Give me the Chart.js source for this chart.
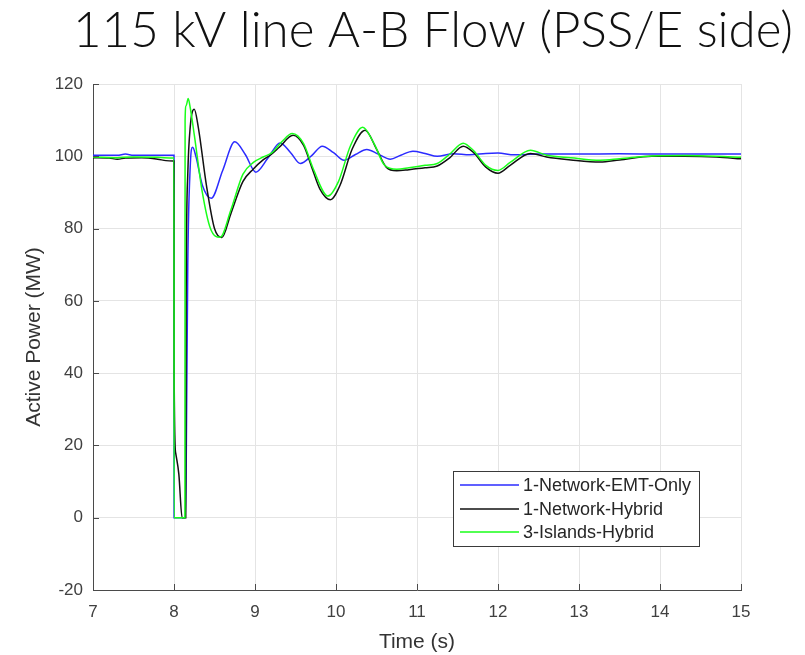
<!DOCTYPE html>
<html>
<head>
<meta charset="utf-8">
<script src="https://cdn.jsdelivr.net/npm/chart.js@4.4.1/dist/chart.umd.min.js"></script>
<style>
  html, body { margin: 0; padding: 0; background: #ffffff; }
  #wrap { width: 805px; height: 655px; position: relative; }
</style>
</head>
<body>
<div id="wrap"><canvas id="c" width="805" height="655"></canvas></div>
<script>
// ---- chart text ----
const chartTitle = '115 kV line A-B Flow (PSS/E side)';
const xAxisTitle = 'Time (s)';
const yAxisTitle = 'Active Power (MW)';
const seriesNames = ['1-Network-EMT-Only', '1-Network-Hybrid', '3-Islands-Hybrid'];
const seriesColors = ['#2b2bff', '#111111', '#19ff19'];

// ---- tick values ----
const timeTicks = [7, 8, 9, 10, 11, 12, 13, 14, 15];
const powerTicks = [-20, 0, 20, 40, 60, 80, 100, 120];

// ---- 1-Network-EMT-Only ----
const emtOnlyTime  = [7.0, 7.3, 7.4, 7.5, 7.99, 8.0, 8.001, 8.14, 8.15, 8.17, 8.2, 8.23, 8.27, 8.35, 8.46, 8.6, 8.75, 8.88, 9.01, 9.16, 9.31, 9.44, 9.56, 9.7, 9.83, 9.97, 10.1, 10.24, 10.38, 10.52, 10.67, 10.8, 10.95, 11.1, 11.25, 11.45, 11.65, 11.85, 12.0, 12.2, 12.5, 13.0, 13.5, 14.0, 14.5, 15.0];
const emtOnlyPower = [100.3, 100.3, 100.6, 100.3, 100.3, 100.3, 0, 0, 13, 70, 97, 102.5, 100, 92, 88.4, 96, 104, 100.5, 95.6, 99.5, 103.7, 101, 98, 100.2, 102.8, 101, 98.9, 100.5, 101.9, 100.6, 99.2, 100.3, 101.4, 100.8, 100, 100.7, 100.4, 100.8, 100.9, 100.4, 100.6, 100.6, 100.7, 100.6, 100.6, 100.6];

// ---- 1-Network-Hybrid ----
const hybridTime  = [7.0, 7.2, 7.3, 7.4, 7.6, 7.8, 7.9, 7.99, 8.0, 8.002, 8.02, 8.06, 8.1, 8.145, 8.15, 8.17, 8.2, 8.25, 8.3, 8.4, 8.5, 8.59, 8.7, 8.85, 8.98, 9.1, 9.2, 9.3, 9.47, 9.6, 9.7, 9.8, 9.93, 10.05, 10.2, 10.36, 10.5, 10.62, 10.75, 10.9, 11.1, 11.25, 11.4, 11.57, 11.7, 11.85, 12.0, 12.15, 12.4, 12.6, 12.9, 13.26, 13.5, 13.9, 14.3, 14.7, 15.0];
const hybridPower = [99.6, 99.5, 99.2, 99.5, 99.6, 99.2, 98.8, 98.7, 98.7, 39, 18, 12, 0, 0, 60, 95, 108, 113, 108, 92, 80, 77.5, 84, 93, 96.5, 99, 100.5, 102.5, 105.8, 103, 97, 91, 88, 92, 102, 107.2, 102, 97, 96, 96.3, 96.8, 97.3, 99.5, 102.8, 101, 97, 95.3, 97.5, 100.8, 99.8, 99, 98.4, 99, 100, 100, 99.8, 99.3];

// ---- 3-Islands-Hybrid ----
const islandsTime  = [7.0, 7.3, 7.5, 7.8, 7.99, 8.0, 8.001, 8.135, 8.137, 8.15, 8.175, 8.2, 8.25, 8.35, 8.45, 8.57, 8.7, 8.85, 8.98, 9.1, 9.21, 9.33, 9.46, 9.6, 9.72, 9.9, 10.03, 10.18, 10.33, 10.47, 10.6, 10.75, 10.9, 11.1, 11.25, 11.4, 11.57, 11.7, 11.85, 12.0, 12.15, 12.4, 12.6, 12.9, 13.26, 13.5, 13.9, 14.3, 14.7, 15.0];
const islandsPower = [99.8, 99.6, 99.8, 99.7, 99.5, 99.5, 0, 0, 110, 114, 116, 113.5, 106, 90, 80, 77.6, 85, 95, 98.3, 99.8, 101, 104, 106.3, 103.5, 96.5, 89, 93, 103, 108, 103.5, 97.5, 96.4, 96.8, 97.5, 98, 100.5, 103.6, 101.5, 97.5, 96.1, 98.3, 101.7, 100.3, 99.6, 98.9, 99.3, 100.1, 100.2, 100, 99.7];

const toPoints = (t, p) => t.map((v, i) => ({ x: v, y: p[i] }));

const FONT = "'Liberation Sans', Arial, Helvetica, sans-serif";

// Large heading above the axes, stretched across the top of the page
const headingPlugin = {
  id: 'heading',
  afterDraw(chart) {
    const ctx = chart.ctx;
    ctx.save();
    ctx.font = "300 50px Lato, 'Open Sans', sans-serif";
    ctx.fillStyle = '#111111';
    ctx.textBaseline = 'alphabetic';
    ctx.textAlign = 'left';
    const w = ctx.measureText(chartTitle).width;
    const targetW = 720;
    const sx = targetW / w;
    ctx.translate(73, 47);
    ctx.scale(sx, 1);
    ctx.fillText(chartTitle, 0, 0);
    ctx.restore();
  }
};

// Inward tick marks on the left and bottom axes
const innerTicksPlugin = {
  id: 'innerTicks',
  afterDatasetsDraw(chart) {
    const { ctx, chartArea, scales } = chart;
    ctx.save();
    ctx.strokeStyle = '#4a4a4a';
    ctx.lineWidth = 1;
    ctx.beginPath();
    timeTicks.forEach(v => {
      const x = Math.round(scales.x.getPixelForValue(v)) + 0.5;
      ctx.moveTo(x, chartArea.bottom);
      ctx.lineTo(x, chartArea.bottom - 6);
    });
    powerTicks.forEach(v => {
      const y = Math.round(scales.y.getPixelForValue(v)) + 0.5;
      ctx.moveTo(chartArea.left, y);
      ctx.lineTo(chartArea.left + 6, y);
    });
    ctx.stroke();
    ctx.restore();
  }
};

// Boxed legend in the lower right of the plot
const boxLegendPlugin = {
  id: 'boxLegend',
  afterDatasetsDraw(chart) {
    const ctx = chart.ctx;
    const box = { x: 453.5, y: 471.5, w: 246, h: 75 };
    ctx.save();
    ctx.fillStyle = '#ffffff';
    ctx.fillRect(box.x, box.y, box.w, box.h);
    ctx.strokeStyle = '#3a3a3a';
    ctx.lineWidth = 1;
    ctx.strokeRect(box.x, box.y, box.w, box.h);
    ctx.font = '18px ' + FONT;
    ctx.textBaseline = 'middle';
    ctx.textAlign = 'left';
    const rows = [485, 509, 532];
    chart.data.datasets.forEach((ds, i) => {
      const y = rows[i];
      ctx.strokeStyle = ds.borderColor;
      ctx.lineWidth = 1.3;
      ctx.beginPath();
      ctx.moveTo(460, y);
      ctx.lineTo(519, y);
      ctx.stroke();
      ctx.fillStyle = '#262626';
      ctx.fillText(ds.label, 523, y + 1);
    });
    ctx.restore();
  }
};

const lineStyle = {
  showLine: true,
  pointRadius: 0,
  borderWidth: 1.5,
  cubicInterpolationMode: 'monotone',
  fill: false
};

new Chart(document.getElementById('c'), {
  type: 'scatter',
  data: {
    datasets: [
      { ...lineStyle, label: seriesNames[0], data: toPoints(emtOnlyTime, emtOnlyPower), borderColor: seriesColors[0], order: 2 },
      { ...lineStyle, label: seriesNames[1], data: toPoints(hybridTime, hybridPower), borderColor: seriesColors[1], order: 1 },
      { ...lineStyle, label: seriesNames[2], data: toPoints(islandsTime, islandsPower), borderColor: seriesColors[2], order: 0 }
    ]
  },
  options: {
    responsive: false,
    devicePixelRatio: 1,
    animation: false,
    layout: { padding: { left: 0, right: 64, top: 84, bottom: 0 } },
    plugins: {
      legend: { display: false },
      tooltip: { enabled: false },
      title: { display: false }
    },
    scales: {
      x: {
        type: 'linear',
        min: timeTicks[0],
        max: timeTicks[timeTicks.length - 1],
        afterBuildTicks(scale) { scale.ticks = timeTicks.map(v => ({ value: v })); },
        ticks: { font: { family: FONT, size: 17 }, color: '#404040', padding: 12, maxRotation: 0 },
        grid: { color: '#e4e4e4', drawTicks: false, lineWidth: 1 },
        border: { display: true, color: '#4a4a4a', width: 1 },
        title: { display: true, text: xAxisTitle, font: { family: FONT, size: 21 }, color: '#333333', padding: { top: 3, bottom: 0 } },
        afterFit(scale) { scale.height = 65; }
      },
      y: {
        type: 'linear',
        min: powerTicks[0],
        max: powerTicks[powerTicks.length - 1],
        afterBuildTicks(scale) { scale.ticks = powerTicks.map(v => ({ value: v })); },
        ticks: { font: { family: FONT, size: 17 }, color: '#404040', padding: 10 },
        grid: { color: '#e4e4e4', drawTicks: false, lineWidth: 1 },
        border: { display: true, color: '#4a4a4a', width: 1 },
        title: { display: true, text: yAxisTitle, font: { family: FONT, size: 21 }, color: '#333333', padding: { top: 22, bottom: 0 } },
        afterFit(scale) { scale.width = 93; }
      }
    }
  },
  plugins: [headingPlugin, innerTicksPlugin, boxLegendPlugin]
});
</script>
</body>
</html>
